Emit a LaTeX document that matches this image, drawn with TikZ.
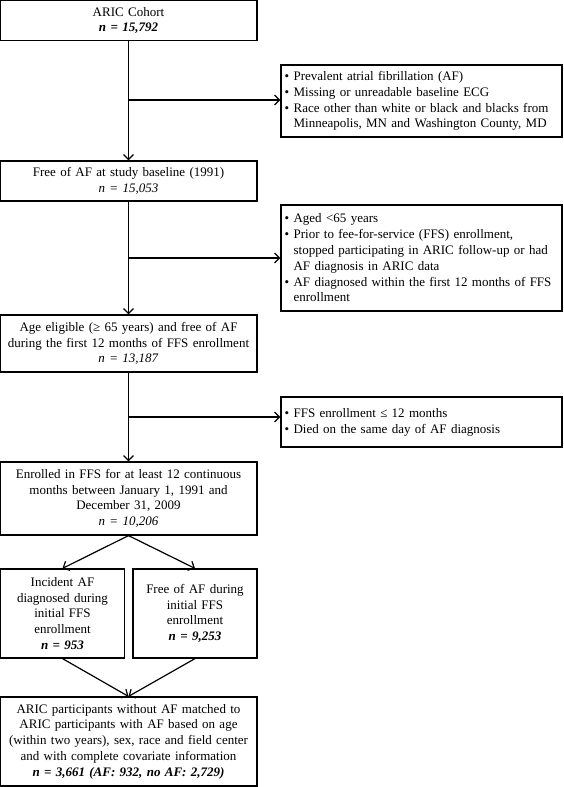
\documentclass[tikz,border=0pt]{standalone}
\usepackage{fontspec}
\setmainfont{Liberation Serif}
\usetikzlibrary{arrows.meta}
\newcommand{\exitem}[1]{\hangindent=0.7em\hangafter=1\makebox[0.7em][l]{\textbullet}#1\par}

\begin{document}
\begin{tikzpicture}[x=1pt, y=-1pt, line width=1.2pt, >={Straight Barb[length=5pt,width=10pt]},
	every node/.style={font=\fontsize{13}{15.8}\selectfont, inner xsep=3pt, inner ysep=2pt},
	box/.style={draw, align=center, text width=251pt},
	smallbox/.style={draw, align=center, text width=118pt, minimum height=89pt},
	exbox/.style={draw, align=left, text width=274pt, inner xsep=3.5pt}]
				
				\useasboundingbox (0,0) rectangle (563,787);
				
				\node[box, minimum height=40pt] (B1) at (128.5,20.5) {ARIC Cohort\\\textbf{\textit{n = 15,792}}};
				\node[box, minimum height=40pt] (B2) at (128.5,181) {Free of AF at study baseline (1991)\\\textit{n = 15,053}};
				\node[box, minimum height=57pt] (B3) at (128.5,343.5) {Age eligible (≥ 65 years) and free of AF\\during the first 12 months of FFS enrollment\\\textit{n = 13,187}};
				\node[box, minimum height=73pt] (B4) at (128.5,498.5) {Enrolled in FFS for at least 12 continuous\\months between January 1, 1991 and\\December 31, 2009\\\textit{n = 10,206}};
				\node[smallbox] (B5) at (62.5,613.5) {Incident AF\\diagnosed during\\initial FFS\\enrollment\\\textbf{\textit{n = 953}}};
				\node[smallbox] (B6) at (195,613.5) {Free of AF during\\initial FFS\\enrollment\\\textbf{\textit{n = 9,253}}};
				\node[box, minimum height=89pt] (B7) at (128.5,741.5) {ARIC participants without AF matched to\\ARIC participants with AF based on age\\(within two years), sex, race and field center\\and with complete covariate information\\\textbf{\textit{n = 3,661 (AF: 932, no AF: 2,729)}}};
				
				\node[exbox, minimum height=72pt] (E1) at (421.5,101) {\exitem{Prevalent atrial fibrillation (AF)}\exitem{Missing or unreadable baseline ECG}\exitem{Race other than white or black and blacks from\newline Minneapolis, MN and Washington County, MD}};
				\node[exbox, minimum height=106pt] (E2) at (421.5,258) {\exitem{Aged <65 years}\exitem{Prior to fee-for-service (FFS) enrollment,\newline stopped participating in ARIC follow-up or had\newline AF diagnosis in ARIC data}\exitem{AF diagnosed within the first 12 months of FFS\newline enrollment}};
				\node[exbox, minimum height=50pt] (E3) at (421.5,422) {\exitem{FFS enrollment ≤ 12 months}\exitem{Died on the same day of AF diagnosis}};
				
				\coordinate (K1) at (128.5,100);
				\coordinate (K2) at (128.5,258);
				\coordinate (K3) at (128.5,417);
				
				\draw[->] (B1) -- (B2);
				\draw[->] (B2) -- (B3);
				\draw[->] (B3) -- (B4);
				\draw[->] (K1) -- (K1 -| E1.west);
				\draw[->] (K2) -- (K2 -| E2.west);
				\draw[->] (K3) -- (K3 -| E3.west);
				
				\draw[->] (B4.south) -- (B5.north);
				\draw[->] (B4.south) -- (B6.north);
				\draw[->] (B5.south) -- (B7.north);
				\draw[->] (B6.south) -- (B7.north);
				
			\end{tikzpicture}
\end{document}
